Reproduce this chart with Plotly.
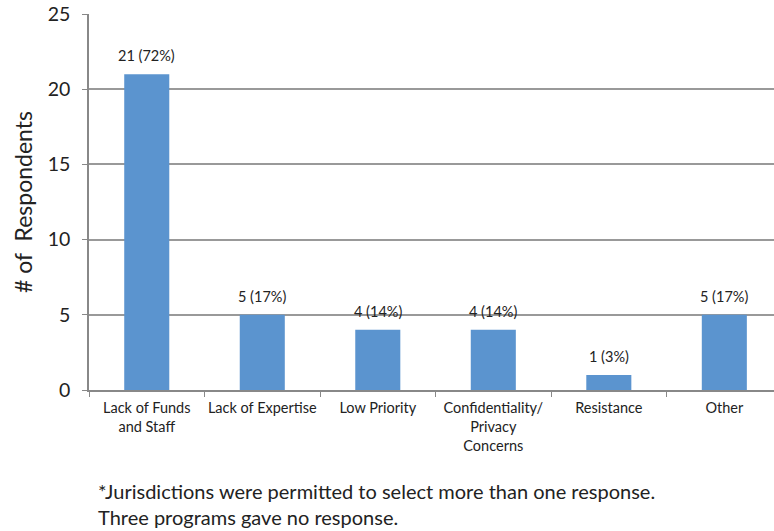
import plotly.graph_objects as go

categories = ["Lack of Funds<br>and Staff", "Lack of Expertise", "Low Priority",
              "Confidentiality/<br>Privacy<br>Concerns", "Resistance", "Other"]
counts = [21, 5, 4, 4, 1, 5]
percents = [72, 17, 14, 14, 3, 17]
y_ticks = [0, 5, 10, 15, 20, 25]
footnote = ("*Jurisdictions were permitted to select more than one response.<br>"
            "Three programs gave no response.")

labels = [f"{c} ({p}%)" for c, p in zip(counts, percents)]

FONT = "Lato, Open Sans, sans-serif"

fig = go.Figure(go.Bar(
    x=categories, y=counts,
    marker=dict(color="#5B94CF", line=dict(width=0)),
    width=0.39,
))

for cat, val, lab in zip(categories, counts, labels):
    fig.add_annotation(
        x=cat, y=val, text=lab, showarrow=False, yanchor="bottom", yshift=8,
        font=dict(size=14.5, color="#222222", family=FONT),
    )

fig.update_layout(
    width=774, height=531,
    margin=dict(l=89, r=0, t=14, b=141),
    plot_bgcolor="white", paper_bgcolor="white",
    showlegend=False,
    font=dict(family=FONT, color="#222222"),
)
fig.update_xaxes(
    range=[-0.5, 5.43], tickson="boundaries", ticks="outside", ticklen=5,
    tickcolor="#888888", showgrid=False, showline=True, linecolor="#888888",
    linewidth=1.5, tickfont=dict(size=14.5, color="#222222"), ticklabelstandoff=4,
    tickangle=0,
)
fig.update_yaxes(
    range=[0, 25], tickvals=y_ticks, ticks="outside", ticklen=5, tickcolor="#888888",
    showgrid=True, gridcolor="#999999", gridwidth=1.5, showline=True,
    linecolor="#888888", linewidth=1.5, tickfont=dict(size=19.5, color="#222222"),
    ticklabelstandoff=8,
    title=dict(text="# of  Respondents", font=dict(size=23, color="#222222"), standoff=9),
    zeroline=False,
)
fig.add_annotation(
    text=footnote, xref="paper", yref="paper", x=0.01, y=-0.232,
    xanchor="left", yanchor="top", showarrow=False, align="left",
    font=dict(size=20, color="#222222", family=FONT),
)

fig.write_html("out.html")
